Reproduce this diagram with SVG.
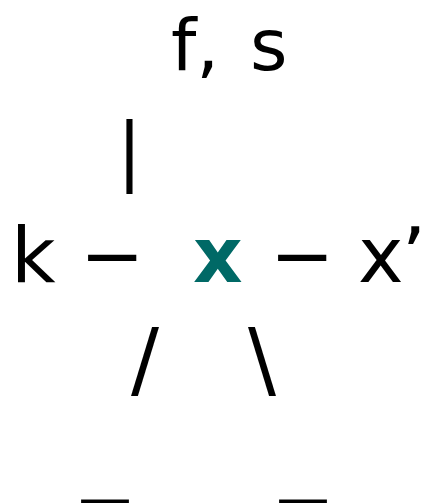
<svg xmlns="http://www.w3.org/2000/svg" width="426" height="503" viewBox="0 0 426 503">
<style>
text{font-family:"DejaVu Sans",sans-serif;fill:#000;}
.m{font-size:77px;}
.b{font-weight:bold;fill:#006966;}
</style>
<rect width="426" height="503" fill="#fff"/>
<g id="top"><text x="171" y="70" style="font-size:72px;word-spacing:8px">f, s</text></g>
<g id="connectors">
<text x="117" y="176" style="font-size:74px">|</text>
<text x="80" y="282" class="m">−</text>
<text x="270" y="282" class="m">−</text>
<text x="131" y="388" style="font-size:83px">/</text>
<text x="248" y="388" style="font-size:83px">\</text>
<text x="82" y="484" style="font-size:92px">_</text>
<text x="280" y="484" style="font-size:92px">_</text>
</g>
<g id="k"><text x="11" y="282" class="m">k</text></g>
<g id="x"><text x="193" y="282" class="m b">x</text></g>
<g id="xp"><text x="358" y="282" class="m" letter-spacing="-2">x’</text></g>
</svg>
